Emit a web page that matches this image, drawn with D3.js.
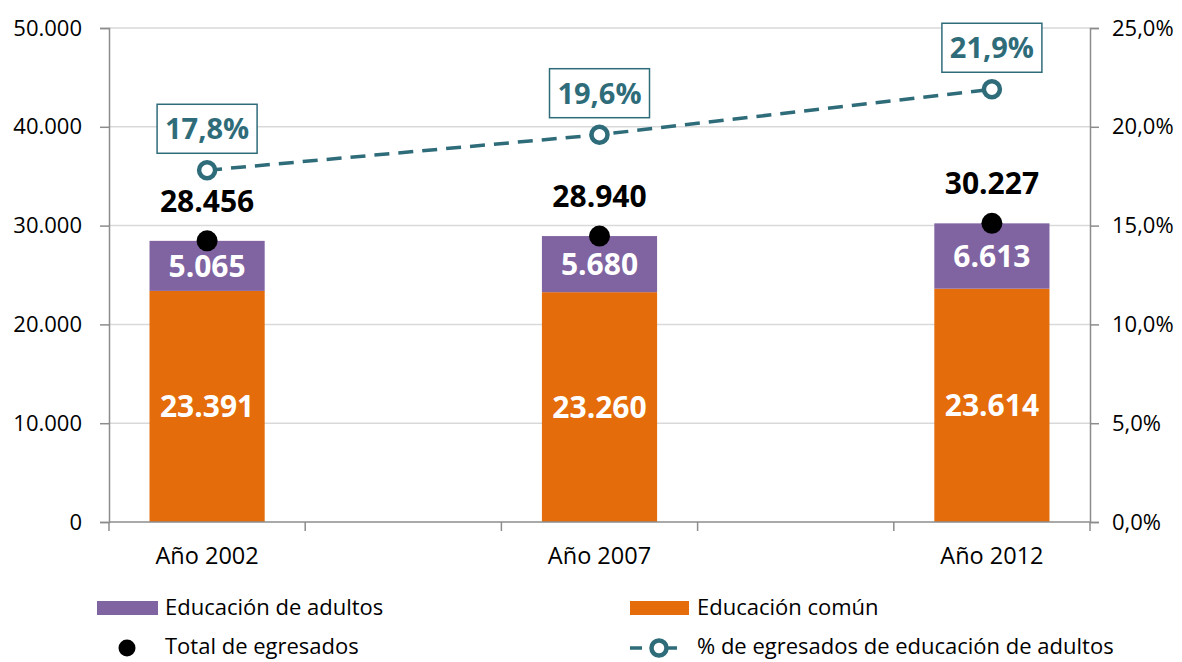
<!DOCTYPE html>
<html><head><meta charset="utf-8">
<script src="https://cdn.jsdelivr.net/npm/d3@7"></script>
<style>body{margin:0;background:#fff}svg{display:block;font-family:"Open Sans",sans-serif}</style>
</head><body><svg id="c" width="1182" height="662"></svg>
<script>
// Data
const slots = ["Año 2002", "gap1", "Año 2007", "gap2", "Año 2012"];
const categories = ["Año 2002", "Año 2007", "Año 2012"];
const comun = [23391, 23260, 23614];
const adultos = [5065, 5680, 6613];
const total = [28456, 28940, 30227];
const pctAdultos = [17.8, 19.6, 21.9];
const leftTicks = [0, 10000, 20000, 30000, 40000, 50000];
const rightTicks = [0, 5, 10, 15, 20, 25];
const seriesNames = ["Educación de adultos", "Educación común", "Total de egresados", "% de egresados de educación de adultos"];

const C = {orange:"#E46C0A", purple:"#8064A2", teal:"#2F6C7A", grid:"#D9D9D9", axis:"#8C8C8C", text:"#000"};
const svg = d3.select("#c");
const L = 109, R = 1090, T = 28, B = 522;
const x = d3.scaleBand().domain(slots).range([L, R]).paddingInner(0).paddingOuter(0);
const y = d3.scaleLinear().domain([0, 50000]).range([B, T]);
const y2 = d3.scaleLinear().domain([0, 25]).range([B, T]);
const barW = x.bandwidth() * 0.587;
const cx = c => x(c) + x.bandwidth() / 2;
const fmtN = d3.formatLocale({decimal: ",", thousands: ".", grouping: [3], currency: ["", ""]});
const fInt = fmtN.format(",d");
const fPct = v => fmtN.format(".1f")(v) + "%";

// gridlines
svg.append("g").selectAll("line").data(leftTicks.filter(d => d > 0)).join("line")
  .attr("x1", L).attr("x2", R).attr("y1", d => y(d)).attr("y2", d => y(d))
  .attr("stroke", C.grid).attr("stroke-width", 1.5);

// bars
const g = svg.append("g");
categories.forEach((c, i) => {
  g.append("rect").attr("x", cx(c) - barW / 2).attr("width", barW)
    .attr("y", y(comun[i])).attr("height", y(0) - y(comun[i])).attr("fill", C.orange);
  g.append("rect").attr("x", cx(c) - barW / 2).attr("width", barW)
    .attr("y", y(comun[i] + adultos[i])).attr("height", y(comun[i]) - y(comun[i] + adultos[i])).attr("fill", C.purple);
  g.append("text").attr("x", cx(c)).attr("y", (y(0) + y(comun[i])) / 2).attr("dy", "0.36em")
    .attr("text-anchor", "middle").attr("fill", "#fff").attr("font-weight", "bold").attr("font-size", 30)
    .text(fInt(comun[i]));
  g.append("text").attr("x", cx(c)).attr("y", (y(comun[i]) + y(comun[i] + adultos[i])) / 2).attr("dy", "0.36em")
    .attr("text-anchor", "middle").attr("fill", "#fff").attr("font-weight", "bold").attr("font-size", 30)
    .text(fInt(adultos[i]));
});

// axes
const yAxis = svg.append("g").attr("transform", `translate(${L},0)`)
  .call(d3.axisLeft(y).tickValues(leftTicks).tickFormat(fInt).tickSizeOuter(0).tickSize(9).tickPadding(18));
const y2Axis = svg.append("g").attr("transform", `translate(${R},0)`)
  .call(d3.axisRight(y2).tickValues(rightTicks).tickFormat(fPct).tickSizeOuter(0).tickSize(9).tickPadding(13));
[yAxis, y2Axis].forEach(a => {
  a.select(".domain").attr("stroke", C.axis).attr("stroke-width", 1.5);
  a.selectAll(".tick line").attr("stroke", C.axis).attr("stroke-width", 1.5);
  a.selectAll("text").attr("font-size", 22).attr("fill", C.text).attr("font-family", "Open Sans");
});
const xg = svg.append("g").attr("transform", `translate(0,${B})`);
xg.append("line").attr("x1", L).attr("x2", R).attr("stroke", C.axis).attr("stroke-width", 1.5);
const bounds = slots.map(s => x(s)).concat([x(slots[slots.length - 1]) + x.bandwidth()]);
xg.selectAll("line.tk").data(bounds).join("line").attr("class", "tk")
  .attr("x1", d => d).attr("x2", d => d).attr("y1", 0).attr("y2", 9)
  .attr("stroke", C.axis).attr("stroke-width", 1.5);
xg.selectAll("text").data(categories).join("text")
  .attr("x", d => cx(d)).attr("y", 42).attr("text-anchor", "middle")
  .attr("font-size", 23.5).attr("fill", C.text).text(d => d);

// line
const line = d3.line().x((d, i) => cx(categories[i])).y(d => y2(d));
svg.append("path").datum(pctAdultos).attr("d", line).attr("fill", "none")
  .attr("stroke", C.teal).attr("stroke-width", 3.5).attr("stroke-dasharray", "15,9");
svg.append("g").selectAll("circle").data(pctAdultos).join("circle")
  .attr("cx", (d, i) => cx(categories[i])).attr("cy", d => y2(d)).attr("r", 8)
  .attr("fill", "#fff").attr("stroke", C.teal).attr("stroke-width", 4.5);
pctAdultos.forEach((v, i) => {
  const px = cx(categories[i]), py = y2(v);
  svg.append("rect").attr("x", px - 50).attr("y", py - 66).attr("width", 100).attr("height", 49)
    .attr("fill", "#fff").attr("stroke", C.teal).attr("stroke-width", 1.5);
  svg.append("text").attr("x", px).attr("y", py - 41.5).attr("dy", "0.36em").attr("text-anchor", "middle")
    .attr("font-size", 29).attr("font-weight", "bold").attr("fill", C.teal).text(fPct(v));
});

// totals
svg.append("g").selectAll("circle").data(total).join("circle")
  .attr("cx", (d, i) => cx(categories[i])).attr("cy", d => y(d)).attr("r", 10.5).attr("fill", "#000");
total.forEach((v, i) => {
  svg.append("text").attr("x", cx(categories[i])).attr("y", y(v) - 40).attr("dy", "0.36em")
    .attr("text-anchor", "middle").attr("font-size", 30).attr("font-weight", "bold").attr("fill", "#000").text(fInt(v));
});

// legend
const lg = svg.append("g").attr("font-size", 22).attr("fill", C.text);
lg.append("rect").attr("x", 97).attr("y", 601).attr("width", 61).attr("height", 14).attr("fill", C.purple);
lg.append("text").attr("x", 165).attr("y", 607).attr("dy", "0.36em").text(seriesNames[0]);
lg.append("rect").attr("x", 630).attr("y", 601).attr("width", 59).attr("height", 14).attr("fill", C.orange);
lg.append("text").attr("x", 697).attr("y", 607).attr("dy", "0.36em").text(seriesNames[1]);
lg.append("circle").attr("cx", 127).attr("cy", 648).attr("r", 8.5).attr("fill", "#000");
lg.append("text").attr("x", 165).attr("y", 646).attr("dy", "0.36em").text(seriesNames[2]);
lg.append("line").attr("x1", 630).attr("x2", 689).attr("y1", 648).attr("y2", 648)
  .attr("stroke", C.teal).attr("stroke-width", 3.5).attr("stroke-dasharray", "12,23");
lg.append("circle").attr("cx", 659).attr("cy", 648).attr("r", 7.5).attr("fill", "#fff")
  .attr("stroke", C.teal).attr("stroke-width", 4.5);
lg.append("text").attr("x", 697).attr("y", 646).attr("dy", "0.36em").text(seriesNames[3]);
</script></body></html>
